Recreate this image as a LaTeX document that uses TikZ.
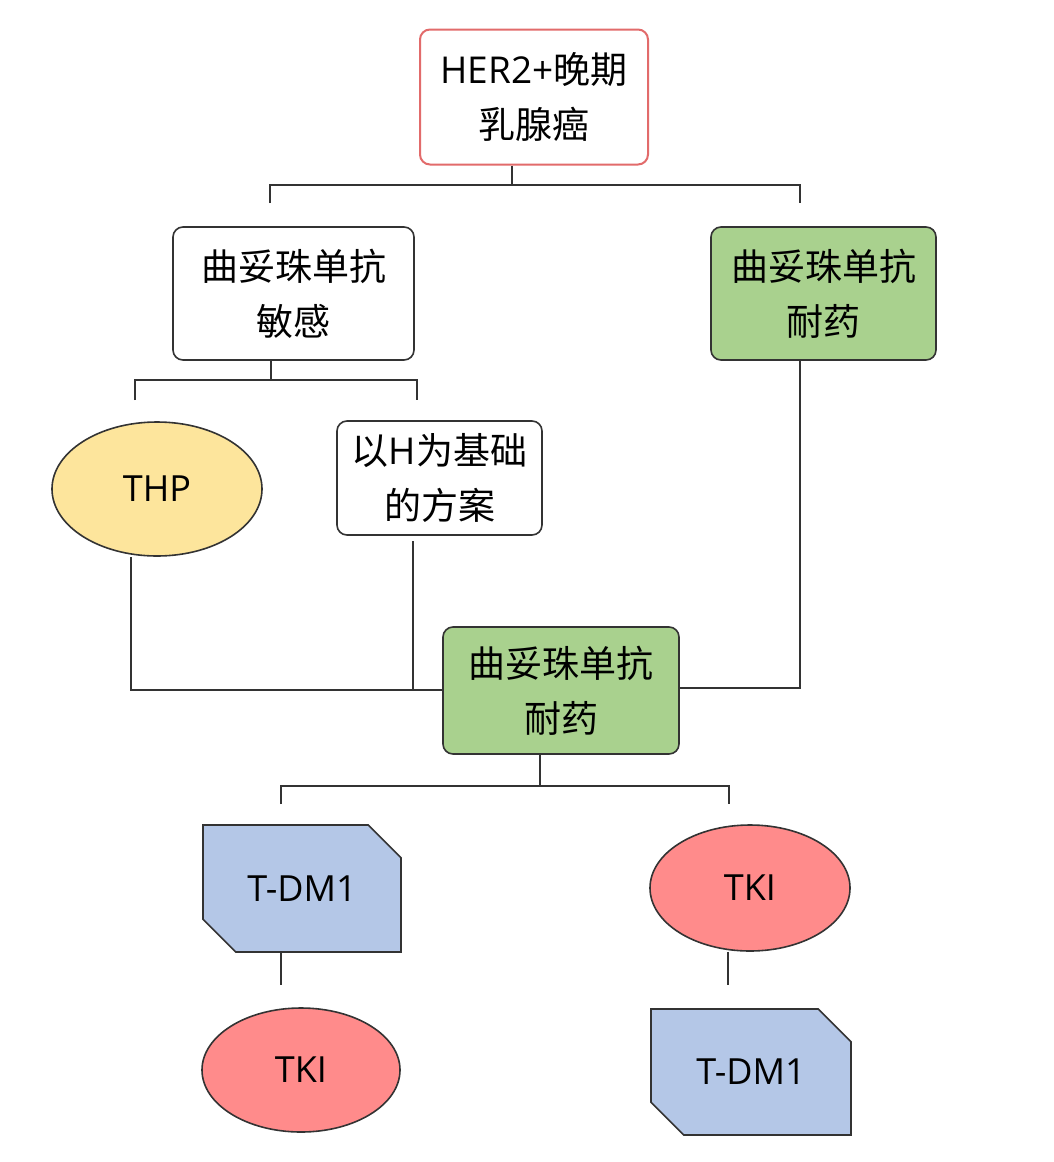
\documentclass[tikz,border=0pt]{standalone}
\usepackage{fontspec}
\setmainfont{Noto Sans CJK SC}
\newfontfamily\latinwide{Open Sans}
\usetikzlibrary{shapes.geometric,shapes.misc}
\definecolor{redline}{HTML}{E26B6B}
\definecolor{yel}{HTML}{FDE59C}
\definecolor{grn}{HTML}{A9D18E}
\definecolor{blu}{HTML}{B4C7E7}
\definecolor{rdf}{HTML}{FF8B8B}
\definecolor{edge}{HTML}{333333}
\tikzset{
  base/.style={font=\fontsize{37}{55}\selectfont, align=center, inner sep=0pt, line width=1.6pt, draw=edge},
  lat/.style={font=\latinwide\fontsize{36}{55}\selectfont},
  box/.style={base, rectangle, rounded corners=10pt},
  oval/.style={base, ellipse},
  cham/.style={base, chamfered rectangle, chamfered rectangle corners={north east,south west}, chamfered rectangle xsep=20pt, chamfered rectangle ysep=20pt},
  conn/.style={line width=1.6pt, draw=edge},
}
\begin{document}
\begin{tikzpicture}[x=1pt,y=-1pt]
\useasboundingbox[fill=white] (0,0) rectangle (1054,1162);
% nodes
\node[box, draw=redline, line width=2pt, minimum width=228pt, minimum height=135pt] (top) at (534,97) {{\latinwide HER2+}晚期\\乳腺癌};
\node[box, minimum width=241pt, minimum height=133pt] (sens) at (293.5,293.5) {曲妥珠单抗\\敏感};
\node[box, fill=grn, minimum width=225pt, minimum height=133pt] (res1) at (823.5,293.5) {曲妥珠单抗\\耐药};
\node[oval, lat, fill=yel, minimum width=210pt, minimum height=134pt] (thp) at (157,489) {THP};
\node[box, minimum width=205pt, minimum height=114pt] (hbase) at (439.5,478) {以{\latinwide H}为基础\\的方案};
\node[box, fill=grn, minimum width=236pt, minimum height=127pt] (res2) at (561,690.5) {曲妥珠单抗\\耐药};
\node[cham, lat, fill=blu, minimum width=198pt, minimum height=127pt] (tdm1a) at (302,888.5) {T-DM1};
\node[oval, lat, fill=rdf, minimum width=200pt, minimum height=126pt] (tkia) at (750,888) {TKI};
\node[oval, lat, fill=rdf, minimum width=198pt, minimum height=124pt] (tkib) at (301,1070) {TKI};
\node[cham, lat, fill=blu, minimum width=200pt, minimum height=126pt] (tdm1b) at (751,1072) {T-DM1};
% coordinates
\coordinate (j1) at (512,185);
\coordinate (s1l) at (270,203);
\coordinate (s1r) at (800,203);
\coordinate (j2) at (271,380);
\coordinate (s2l) at (135,400);
\coordinate (s2r) at (417,400);
\coordinate (j3) at (540,786);
\coordinate (s3l) at (281,804);
\coordinate (s3r) at (729,804);
\coordinate (e1) at (281,985);
\coordinate (e2) at (728,985);
% connectors
\draw[conn] (j1 |- top.south) -- (j1);
\draw[conn] (s1l) -- (s1l |- j1) -- (s1r |- j1) -- (s1r);
\draw[conn] (j2 |- sens.south) -- (j2);
\draw[conn] (s2l) -- (s2l |- j2) -- (s2r |- j2) -- (s2r);
\draw[conn] (131,557) -- (131,690) -- (res2.west |- 0,690);
\draw[conn] (413,541) -- (413,690);
\draw[conn] (800,360) -- (800,688) -- (res2.east |- 0,688);
\draw[conn] (j3 |- res2.south) -- (j3);
\draw[conn] (s3l) -- (s3l |- j3) -- (s3r |- j3) -- (s3r);
\draw[conn] (e1 |- tdm1a.south) -- (e1);
\draw[conn] (e2 |- tkia.south) -- (e2);
\end{tikzpicture}
\end{document}
